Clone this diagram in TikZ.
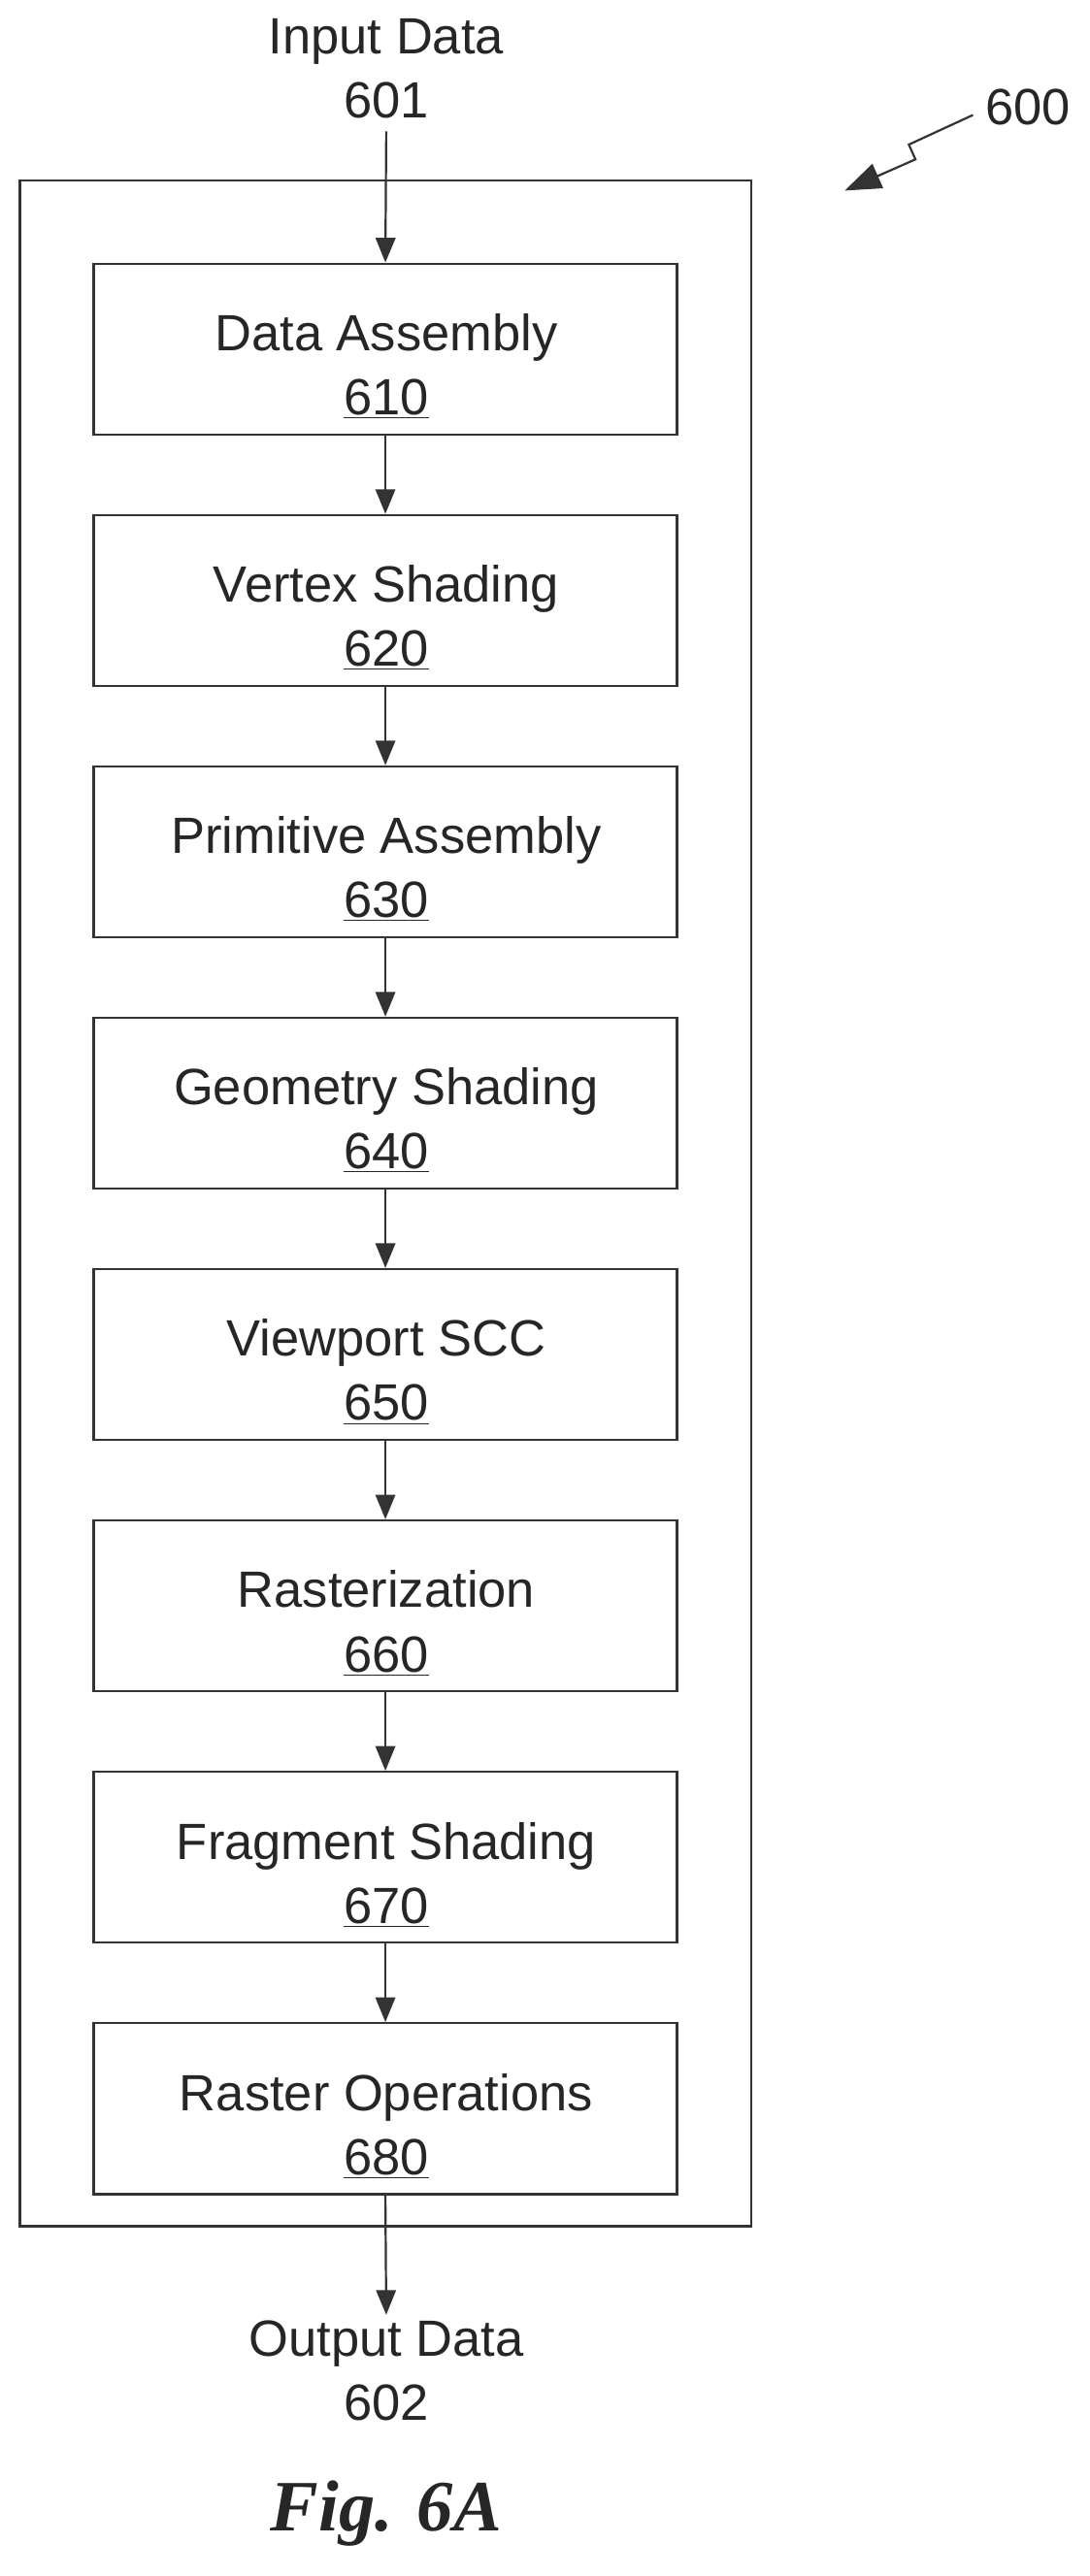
\documentclass[tikz,border=0pt]{standalone}
\usepackage{fontspec}
\setmainfont{Liberation Sans}
\newfontfamily\figfont{Liberation Serif}
\usetikzlibrary{arrows.meta}
\begin{document}
\begin{tikzpicture}[x=1pt,y=-1pt,
  lbl/.style={font=\fontsize{31}{39}\selectfont, text=black!85, align=center},
  blk/.style={draw=black!80, line width=1.4pt, minimum width=355pt, minimum height=104pt, inner sep=0pt},
  arr/.style={draw=black!80, line width=1.3pt, -{Triangle[length=15pt,width=12pt]}}]
\useasboundingbox (0,0) rectangle (663,1568);
\node[draw=black!80, line width=1.4pt, minimum width=445pt, minimum height=1245pt, inner sep=0pt] (outer) at (234.5,732.5) {};
\node[lbl] (in) at (235,42) {Input Data\\601};
\coordinate (inend) at (235,80);
\foreach \i/\t/\n in {0/Data Assembly/610,1/Vertex Shading/620,2/Primitive Assembly/630,3/Geometry Shading/640,4/Viewport SCC/650,5/Rasterization/660,6/Fragment Shading/670,7/Raster Operations/680}{
  \node[blk] (b\i) at (234.5,212.5+153*\i) {};
  \node[lbl] (t\i) at (235,223+153*\i) {\t\\\underline{\n}};
}
\draw[arr] (inend) -- (b0.north);
\foreach \i [evaluate=\i as \j using int(\i+1)] in {0,...,6}{ \draw[arr] (b\i.south) -- (b\j.north); }
\node[lbl] (out) at (235,1443) {Output Data\\602};
\draw[arr] (b7.south) -- (out.north);
\node[lbl, anchor=west] (n600) at (596,65) {600};
\coordinate (z0) at (592,70);
\coordinate (z1) at (553,88);
\coordinate (z2) at (557,97);
\coordinate (z4) at (514,116);
\draw[draw=black!80, line width=1.3pt, -{Triangle[length=22pt,width=16pt]}] (z0) -- (z1) -- (z2) -- (z4);
\node[font=\figfont\bfseries\itshape\fontsize{44}{52}\selectfont, text=black!85] (fig) at (235,1530) {Fig. 6A};
\end{tikzpicture}
\end{document}
